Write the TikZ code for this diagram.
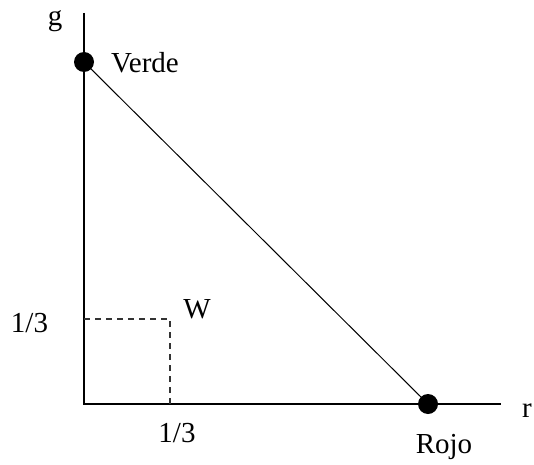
\documentclass[tikz,border=0pt]{standalone}
\usepackage{fontspec}
\setmainfont{Liberation Serif}
\tikzset{
  punto/.style={circle, fill=black, inner sep=0pt, minimum size=20pt},
  etiqueta/.style={anchor=base, inner sep=0pt, font=\fontsize{29}{33}\selectfont},
  eje/.style={line width=2.6pt},
  guia/.style={line width=1.1pt, black!80, dash pattern=on 6pt off 5pt}
}
\begin{document}
\begin{tikzpicture}[x=1pt, y=1pt]
    \useasboundingbox (0,0) rectangle (534,464);

    \coordinate (origen) at (84,60);
    \coordinate (gtop) at (84,451);
    \coordinate (rend) at (501,60);
    \coordinate (wx) at (170,60);
    \coordinate (wy) at (84,145);
    \coordinate (w) at (170,145);

    \draw [eje] (gtop) -- (origen) -- (rend);
    \draw [guia] (wy) -- (w) -- (wx);

    \node [punto] (verde) at (84,402) {};
    \node [punto] (rojo) at (428,60) {};
    \draw [line width=1pt] (verde.center) -- (rojo.center);

    \node [etiqueta] (g) at (55,438) {g};
    \node [etiqueta] (r) at (527,47) {r};
    \node [etiqueta] (verdetxt) at (145,391) {Verde};
    \node [etiqueta] (rojotxt) at (444,11) {Rojo};
    \node [etiqueta] (wtxt) at (197,146) {W};
    \node [etiqueta] (tercioy) at (29.5,132) {1/3};
    \node [etiqueta] (terciox) at (177,22) {1/3};
\end{tikzpicture}
\end{document}
